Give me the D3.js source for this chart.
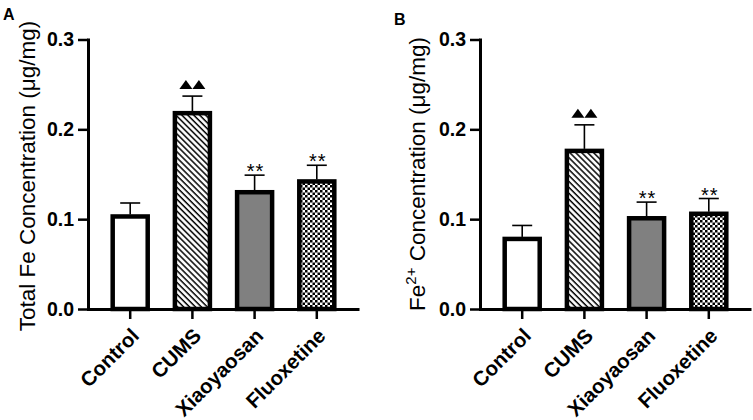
<!DOCTYPE html>
<html><head><meta charset="utf-8">
<script src="https://cdn.jsdelivr.net/npm/d3@7"></script>
<style>body{margin:0;background:#fff}svg{display:block}text{font-family:"Liberation Sans",Arial,sans-serif}</style>
</head><body><svg id="c" width="753" height="420"></svg>
<script>
const categories = ["Control", "CUMS", "Xiaoyaosan", "Fluoxetine"];
const totalFeMean = [0.103, 0.218, 0.130, 0.142];
const totalFeSem = [0.015, 0.019, 0.019, 0.018];
const fe2Mean = [0.078, 0.176, 0.101, 0.106];
const fe2Sem = [0.015, 0.029, 0.018, 0.017];
const yTicks = [0, 0.1, 0.2, 0.3];
const marks = ["", "tri", "**", "**"];
const fills = ["#ffffff", "url(#hatch)", "#808080", "url(#checker)"];

const svg = d3.select("#c");
const defs = svg.append("defs");
const hatch = defs.append("pattern").attr("id", "hatch").attr("patternUnits", "userSpaceOnUse")
  .attr("width", 4.2).attr("height", 4.2).attr("patternTransform", "rotate(-45)");
hatch.append("rect").attr("width", 4.2).attr("height", 4.2).attr("fill", "#fff");
hatch.append("line").attr("x1", 1).attr("x2", 1).attr("y1", 0).attr("y2", 4.2).attr("stroke", "#000").attr("stroke-width", 1.5);
const checker = defs.append("pattern").attr("id", "checker").attr("patternUnits", "userSpaceOnUse")
  .attr("width", 5).attr("height", 5);
checker.append("rect").attr("width", 5).attr("height", 5).attr("fill", "#fff");
checker.append("rect").attr("width", 2.5).attr("height", 2.5).attr("fill", "#000");
checker.append("rect").attr("x", 2.5).attr("y", 2.5).attr("width", 2.5).attr("height", 2.5).attr("fill", "#000");

function panel(ax, means, sems, letter, letterPos, labelX, labelY, labelFn) {
  const x = d3.scaleBand().domain(categories).range([ax, ax + 271]).paddingInner(0.437).paddingOuter(0.397);
  const y = d3.scaleLinear().domain([0, 0.3]).range([309, 39.5]);
  const g = svg.append("g");

  // bars
  g.selectAll("rect.bar").data(categories).join("rect").attr("class", "bar")
    .attr("x", d => x(d)).attr("width", x.bandwidth())
    .attr("y", (d, i) => y(means[i])).attr("height", (d, i) => y(0) - y(means[i]))
    .attr("fill", (d, i) => fills[i]).attr("stroke", "#000").attr("stroke-width", 4.5);

  // error bars
  categories.forEach((c, i) => {
    const cx = x(c) + x.bandwidth() / 2;
    const top = y(means[i] + sems[i]);
    g.append("line").attr("x1", cx).attr("x2", cx).attr("y1", y(means[i]) - 2).attr("y2", top)
      .attr("stroke", "#000").attr("stroke-width", 1.6);
    g.append("line").attr("x1", cx - 10).attr("x2", cx + 10).attr("y1", top).attr("y2", top)
      .attr("stroke", "#000").attr("stroke-width", 1.6);
    if (marks[i] === "tri") {
      [-6.5, 6.5].forEach(o => {
        g.append("path").attr("d", `M${cx + o - 6.5},${top - 7} L${cx + o + 6.5},${top - 7} L${cx + o},${top - 16} Z`).attr("fill", "#000");
      });
    } else if (marks[i]) {
      g.append("text").attr("x", cx + 1).attr("y", top + 3).attr("text-anchor", "middle")
        .attr("font-size", 20).attr("letter-spacing", 1).text(marks[i]);
    }
  });

  // axes
  const ya = g.append("g").attr("transform", `translate(${ax},0)`)
    .call(d3.axisLeft(y).tickValues(yTicks).tickFormat(d3.format(".1f")).tickSize(10).tickSizeOuter(0).tickPadding(4));
  ya.select(".domain").attr("stroke-width", 3).attr("stroke-linecap", "square");
  ya.selectAll(".tick line").attr("stroke-width", 2.5);
  ya.selectAll(".tick text").attr("font-size", 19.5).attr("font-weight", "bold").attr("fill", "#000")
    .attr("font-family", '"Liberation Sans",Arial,sans-serif');

  const xa = g.append("g").attr("transform", "translate(0,309)")
    .call(d3.axisBottom(x).tickSize(10).tickSizeOuter(0).tickFormat(""));
  xa.select(".domain").attr("stroke-width", 3);
  xa.selectAll(".tick line").attr("stroke-width", 2.5);

  categories.forEach(c => {
    const cx = x(c) + x.bandwidth() / 2;
    g.append("text").attr("transform", `translate(${cx + 5},${332}) rotate(-45)`)
      .attr("text-anchor", "end").attr("dy", "0.35em").attr("font-size", 20.5).attr("font-weight", "bold").text(c);
  });

  // y label
  const lab = g.append("text").attr("transform", `translate(${labelX},${labelY}) rotate(-90)`)
    .attr("text-anchor", "middle").attr("font-size", 22.5);
  labelFn(lab);

  svg.append("text").attr("x", letterPos[0]).attr("y", letterPos[1]).attr("font-size", 16).attr("font-weight", "bold").text(letter);
}

panel(88, totalFeMean, totalFeSem, "A", [3, 20], 35, 176, t => t.text("Total Fe Concentration (\u03bcg/mg)"));
panel(480, fe2Mean, fe2Sem, "B", [394, 25], 425, 174, t => {
  t.append("tspan").text("Fe");
  t.append("tspan").attr("dy", -9).attr("font-size", 15).text("2+");
  t.append("tspan").attr("dy", 9).text(" Concentration (\u03bcg/mg)");
});
</script></body></html>
